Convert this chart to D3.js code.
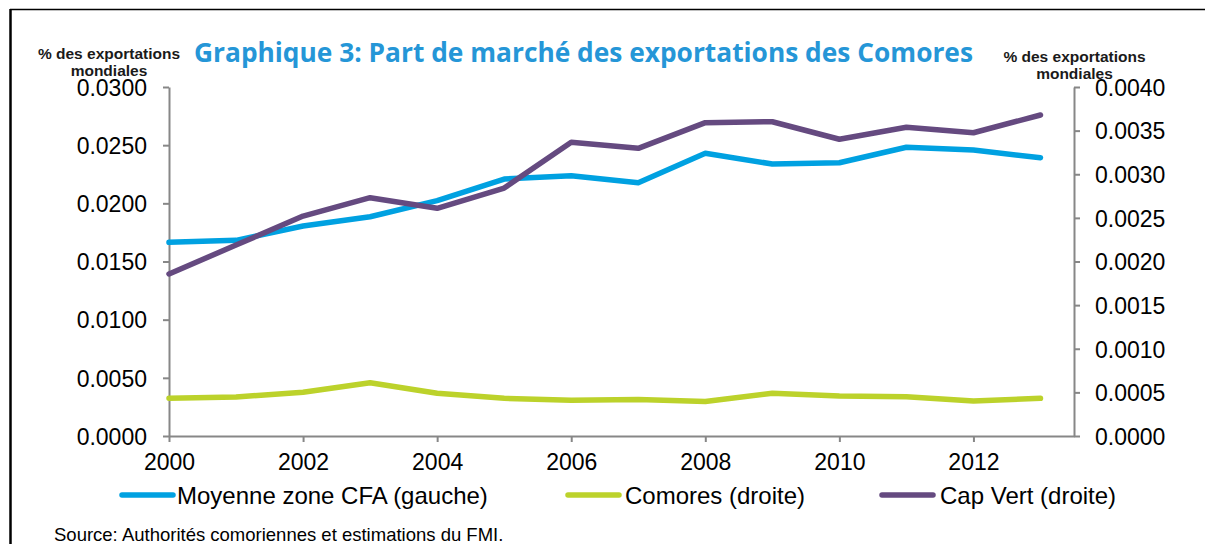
<!DOCTYPE html>
<html lang="fr">
<head>
<meta charset="utf-8">
<title>Graphique 3: Part de marché des exportations des Comores</title>
<script src="https://d3js.org/d3.v7.min.js"></script>
<style>
  body { margin: 0; background: #fff; }
  svg { display: block; font-family: "Liberation Sans", Arial, sans-serif; }
</style>
</head>
<body>
<script>
// data
var years = [2000, 2001, 2002, 2003, 2004, 2005, 2006, 2007, 2008, 2009, 2010, 2011, 2012, 2013];
var cfa = [0.01665, 0.01682, 0.01805, 0.01885, 0.02023, 0.02209, 0.02238, 0.02177, 0.0243, 0.02338, 0.02349, 0.02482, 0.02458, 0.02392];
var comores = [0.000432, 0.000447, 0.000501, 0.000611, 0.000489, 0.000432, 0.000409, 0.000418, 0.000395, 0.000489, 0.000458, 0.00045, 0.000401, 0.000432];
var capVert = [0.001857, 0.002189, 0.002521, 0.002731, 0.00261, 0.002842, 0.003367, 0.003297, 0.003591, 0.003602, 0.003401, 0.003538, 0.003476, 0.003679];
var xTicks = [2000, 2002, 2004, 2006, 2008, 2010, 2012];
var leftTicks = [0, 0.005, 0.01, 0.015, 0.02, 0.025, 0.03];
var rightTicks = [0, 0.0005, 0.001, 0.0015, 0.002, 0.0025, 0.003, 0.0035, 0.004];
var seriesNames = ["Moyenne zone CFA (gauche)", "Comores (droite)", "Cap Vert (droite)"];

var W = 1209, H = 544;
var plot = {left: 169, right: 1074, top: 87, bottom: 436};

var svg = d3.select("body").append("svg")
  .attr("width", W)
  .attr("height", H);

// frame lines
svg.append("line").attr("x1", 10).attr("x2", 1205).attr("y1", 9.5).attr("y2", 9.5)
  .attr("stroke", "#000").attr("stroke-width", 1.5);
svg.append("line").attr("x1", 10.5).attr("x2", 10.5).attr("y1", 9).attr("y2", H)
  .attr("stroke", "#000").attr("stroke-width", 2.5);

var x = d3.scaleLinear().domain([2000, 2013.5]).range([plot.left, plot.right]);
var yL = d3.scaleLinear().domain([0, 0.03]).range([plot.bottom, plot.top]);
var yR = d3.scaleLinear().domain([0, 0.004]).range([plot.bottom, plot.top]);

var axisColor = "#878787";

// axes
var gx = svg.append("g").attr("transform", "translate(0," + plot.bottom + ")")
  .call(d3.axisBottom(x).tickValues(xTicks).tickFormat(d3.format("d")).tickSize(6).tickSizeOuter(0).tickPadding(10));
var gl = svg.append("g").attr("transform", "translate(" + plot.left + ",0)")
  .call(d3.axisLeft(yL).tickValues(leftTicks).tickFormat(d3.format(".4f")).tickSize(6).tickSizeOuter(0).tickPadding(16));
var gr = svg.append("g").attr("transform", "translate(" + plot.right + ",0)")
  .call(d3.axisRight(yR).tickValues(rightTicks).tickFormat(d3.format(".4f")).tickSize(6).tickSizeOuter(0).tickPadding(15));

[gx, gl, gr].forEach(function(g) {
  g.select(".domain").attr("stroke", axisColor).attr("stroke-width", 2);
  g.selectAll(".tick line").attr("stroke", axisColor).attr("stroke-width", 2);
  g.selectAll(".tick text").attr("fill", "#000")
    .style("font-family", "'Liberation Sans', Arial, sans-serif")
    .style("font-size", "23px");
});
gl.selectAll(".tick text").attr("dy", "0.36em");
gr.selectAll(".tick text").attr("dy", "0.36em");
gx.selectAll(".tick text").attr("dy", "0.78em");

// lines
var colors = ["#00a1e1", "#bcd22b", "#654a80"];
var lineL = d3.line().x(function(d, i) { return x(years[i]); }).y(function(d) { return yL(d); });
var lineR = d3.line().x(function(d, i) { return x(years[i]); }).y(function(d) { return yR(d); });

var series = [
  {values: cfa, line: lineL, color: colors[0]},
  {values: comores, line: lineR, color: colors[1]},
  {values: capVert, line: lineR, color: colors[2]}
];
series.forEach(function(s) {
  svg.append("path")
    .attr("d", s.line(s.values))
    .attr("fill", "none")
    .attr("stroke", s.color)
    .attr("stroke-width", 5.5)
    .attr("stroke-linejoin", "round")
    .attr("stroke-linecap", "round");
});

// title
svg.append("text")
  .attr("x", 194).attr("y", 62)
  .attr("textLength", 779).attr("lengthAdjust", "spacingAndGlyphs")
  .style("font-family", "'Open Sans', 'Noto Sans', sans-serif")
  .style("font-weight", "700")
  .style("font-size", "26px")
  .attr("fill", "#2596d7")
  .text("Graphique 3: Part de marché des exportations des Comores");

// axis titles
function axisTitle(cx, y0) {
  var t = svg.append("text")
    .attr("text-anchor", "middle")
    .style("font-weight", "700")
    .style("font-size", "15.5px")
    .attr("fill", "#1a1a1a");
  t.append("tspan").attr("x", cx).attr("y", y0).text("% des exportations");
  t.append("tspan").attr("x", cx).attr("y", y0 + 17).text("mondiales");
}
axisTitle(109, 59);
axisTitle(1074.5, 62);

// legend
var legendItems = [
  {x: 120, tx: 177},
  {x: 566, tx: 625},
  {x: 880, tx: 940}
];
legendItems.forEach(function(l, i) {
  svg.append("line")
    .attr("x1", l.x + 2).attr("x2", l.x + 53).attr("y1", 495).attr("y2", 495)
    .attr("stroke", colors[i]).attr("stroke-width", 5.5).attr("stroke-linecap", "round");
  svg.append("text")
    .attr("x", l.tx).attr("y", 504)
    .style("font-size", "24px")
    .attr("fill", "#000")
    .text(seriesNames[i]);
});

// source
svg.append("text")
  .attr("x", 54).attr("y", 541)
  .style("font-size", "18.5px")
  .attr("fill", "#000")
  .text("Source: Authorités comoriennes et estimations du FMI.");
</script>
</body>
</html>
